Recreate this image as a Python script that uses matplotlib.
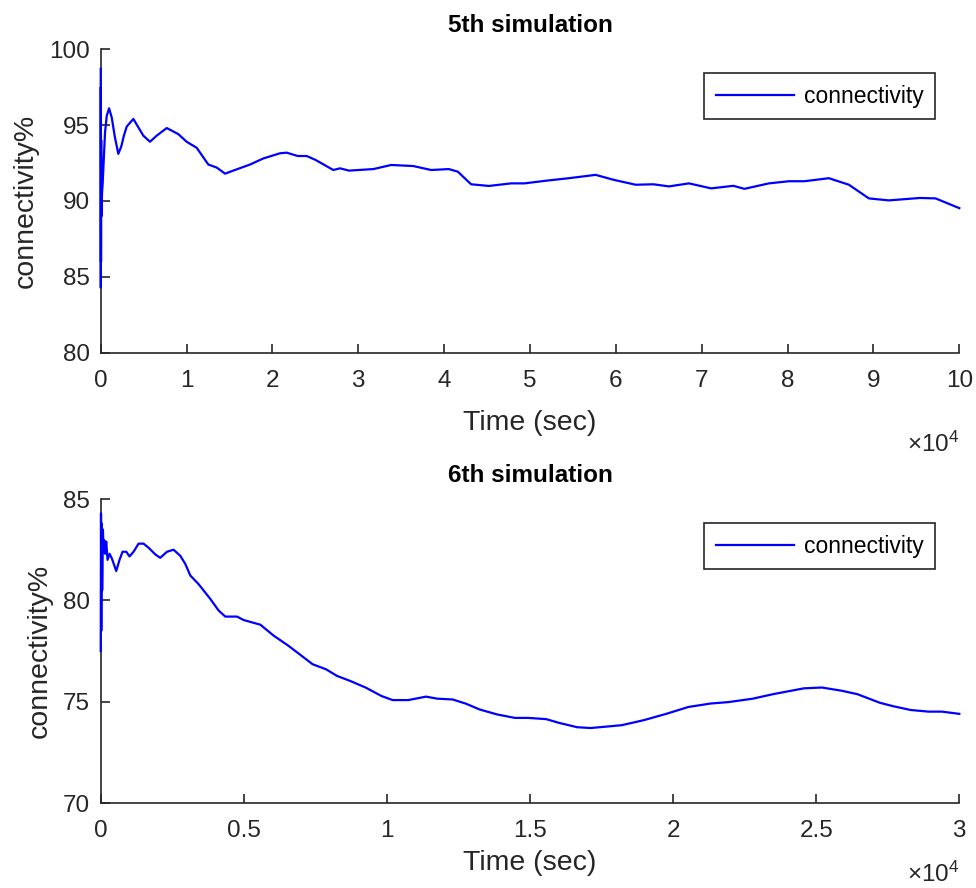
import matplotlib
matplotlib.use("Agg")
import matplotlib.pyplot as plt
from matplotlib.ticker import FuncFormatter, FixedLocator

plt.rcParams['font.family'] = ['Liberation Sans', 'DejaVu Sans']
plt.rcParams['mathtext.fontset'] = 'custom'
plt.rcParams['mathtext.rm'] = 'Liberation Sans'
plt.rcParams['mathtext.it'] = 'Liberation Sans:italic'

# 5th simulation: time (s) and connectivity (%)
t5 = [0, 10, 20, 35, 50, 80, 150, 230, 500, 700, 970,
      1280, 1650, 2050, 2400, 2700, 3030, 3800, 4960, 5740, 6520, 7690, 9040, 10000,
      11180, 12530, 13510, 14480, 15440, 17390, 18940, 20880, 21660, 22950,
      23990, 25030, 27090, 27870, 28910, 31750, 33820, 36410, 38480, 40550,
      41590, 43140, 45210, 47800, 49350, 51940, 54530, 57640, 59700, 62300,
      64360, 66180, 68510, 71100, 73680, 74970, 77830, 80150, 81960, 84810,
      87140, 89470, 91800, 95420, 97240, 100000]
v5 = [98.7, 84.3, 97.5, 86.0, 94.0, 89.0, 90.5, 91.2, 94.5, 95.6, 96.1,
      95.5, 94.2, 93.1, 93.6, 94.3, 94.9, 95.4, 94.3, 93.9, 94.3, 94.8, 94.4, 93.9,
      93.5, 92.4, 92.2, 91.8, 92.0, 92.4, 92.8, 93.14, 93.18, 92.96,
      92.96, 92.7, 92.04, 92.15, 92.0, 92.1, 92.37, 92.3, 92.04, 92.1,
      91.93, 91.1, 90.99, 91.16, 91.16, 91.34, 91.5, 91.72, 91.4, 91.07,
      91.1, 90.96, 91.16, 90.83, 91.0, 90.8, 91.16, 91.3, 91.3, 91.5,
      91.07, 90.17, 90.04, 90.2, 90.17, 89.53]

# 6th simulation: time (s) and connectivity (%)
t6 = [0, 10, 20, 35, 50, 77, 100, 122, 150, 192,
      238, 308, 392, 542, 657, 762, 892, 1007, 1147, 1322,
      1497, 1671, 1906, 2080, 2315, 2545, 2780, 2955, 3129, 3420,
      3829, 4119, 4353, 4762, 4993, 5577, 6042, 6549, 7014, 7402,
      7871, 8259, 8724, 9269, 9811, 10199, 10745, 11367, 11755, 12297,
      12766, 13231, 13853, 14472, 14940, 15563, 16028, 16650, 17115, 18203,
      18979, 19759, 20535, 21311, 21934, 22787, 23486, 24573, 25196, 25895,
      26441, 27217, 27681, 28303, 28925, 29392, 30000]
v6 = [77.5, 84.3, 78.5, 83.8, 80.5, 83.5, 82.4, 82.97, 82.3, 82.9,
      82.0, 82.3, 82.06, 81.45, 82.0, 82.4, 82.4, 82.17, 82.4, 82.8,
      82.8, 82.6, 82.27, 82.1, 82.4, 82.5, 82.2, 81.8, 81.23, 80.8,
      80.07, 79.5, 79.2, 79.2, 79.03, 78.8, 78.26, 77.77, 77.27, 76.85,
      76.6, 76.27, 76.02, 75.69, 75.28, 75.08, 75.08, 75.25, 75.15, 75.11,
      74.9, 74.62, 74.37, 74.2, 74.2, 74.14, 73.95, 73.74, 73.7, 73.84,
      74.09, 74.4, 74.74, 74.91, 74.98, 75.15, 75.37, 75.66, 75.7, 75.54,
      75.37, 74.95, 74.78, 74.59, 74.51, 74.51, 74.4]

titles = ['5th simulation', '6th simulation']
x_limits = [(0, 100000), (0, 30000)]
x_ticks = [[i * 10000 for i in range(11)], [i * 5000 for i in range(7)]]
y_limits = [(80, 100), (70, 85)]
y_ticks = [[80, 85, 90, 95, 100], [70, 75, 80, 85]]
series = [(t5, v5), (t6, v6)]

AX_COLOR = '#262626'

fig = plt.figure(figsize=(9.76, 8.88), dpi=100)
positions = [[0.1032, 0.6025, 0.8797, 0.3423],
             [0.1032, 0.0957, 0.8797, 0.3423]]
xlabel_pads = [13, 6]
exp_y = [-0.30, -0.235]

for k in range(2):
    ax = fig.add_axes(positions[k])
    t, v = series[k]
    ax.plot(t, v, color='#0000ff', lw=1.6, label='connectivity', zorder=3,
            clip_on=False)
    ax.set_xlim(*x_limits[k])
    ax.set_ylim(*y_limits[k])
    ax.xaxis.set_major_locator(FixedLocator(x_ticks[k]))
    ax.yaxis.set_major_locator(FixedLocator(y_ticks[k]))
    ax.xaxis.set_major_formatter(FuncFormatter(lambda x, p: f'{x / 1e4:g}'))
    for side in ('top', 'right'):
        ax.spines[side].set_visible(False)
    for side in ('left', 'bottom'):
        ax.spines[side].set_color(AX_COLOR)
        ax.spines[side].set_linewidth(1.2)
    ax.tick_params(direction='in', length=6.5, width=1.2, colors=AX_COLOR,
                   labelsize=17.5)
    ax.tick_params(axis='x', pad=12)
    ax.tick_params(axis='y', pad=8)
    ax.set_xlabel('Time (sec)', fontsize=20.5, color=AX_COLOR,
                  labelpad=xlabel_pads[k])
    ax.set_ylabel('connectivity%', fontsize=20.5, color=AX_COLOR, labelpad=7)
    ax.set_title(titles[k], fontsize=17.5, fontweight='bold', pad=12)
    ax.text(1.0, exp_y[k], r'$\times10^{4}$', transform=ax.transAxes,
            ha='right', va='center', fontsize=17.5, color=AX_COLOR)
    leg = ax.legend(loc='upper right', fontsize=16.5, fancybox=False,
                    framealpha=1, edgecolor=AX_COLOR, handlelength=3.4,
                    handletextpad=0.45, borderpad=0.5, borderaxespad=1.05)
    leg.get_frame().set_linewidth(1.2)

fig.savefig('out.png', dpi=100)
